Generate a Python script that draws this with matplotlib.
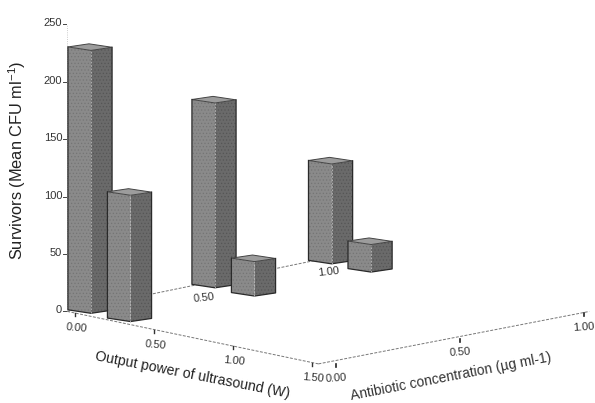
import matplotlib
matplotlib.use("Agg")
import matplotlib.pyplot as plt
from matplotlib.patches import Polygon

plt.rcParams['font.family'] = ['Liberation Sans', 'DejaVu Sans']
plt.rcParams['hatch.linewidth'] = 0.5
plt.rcParams['mathtext.default'] = 'regular'

# data
bar_power = [0.0, 0.25, 0.0, 0.25, 0.0, 0.25]
bar_conc = [0.0, 0.0, 0.5, 0.5, 0.97, 0.97]
survivors = [229, 110, 161, 30, 87, 24]
z_ticks = [0, 50, 100, 150, 200, 250]
power_ticks = [0.0, 0.5, 1.0, 1.5]
conc_ticks = [0.0, 0.5, 1.0]

# oblique projection (pixels per data unit)
ORIGIN = (90.0, 310.0)
P_VEC = (158.0, 33.0)
C_VEC = (248.0, -51.0)
Z_SCALE = 1.148
HALF_P, HALF_C = 0.073, 0.0425
AX_P, AX_C = -0.05, -0.06
FLAT = 0.72  # footprint of a bar looks flatter than the floor axes


def proj(p, c, z=0.0):
    return (ORIGIN[0] + p * P_VEC[0] + c * C_VEC[0],
            ORIGIN[1] + p * P_VEC[1] + c * C_VEC[1] - z * Z_SCALE)


def corner(p, c, sp, sc, z=0.0):
    x, y = proj(p, c, z)
    dp, dc = sp * HALF_P, sc * HALF_C
    return (x + dp * P_VEC[0] + dc * C_VEC[0],
            y + FLAT * (dp * P_VEC[1] + dc * C_VEC[1]))


fig = plt.figure(figsize=(5.95, 4.03), dpi=100)
ax = fig.add_axes([0, 0, 1, 1])
ax.set_xlim(0, 595)
ax.set_ylim(403, 0)
ax.axis('off')


def line(a, b, **kw):
    ax.plot([a[0], b[0]], [a[1], b[1]], **kw)


axis_style = dict(color='#777777', lw=0.7, ls=(0, (3, 1.5)), zorder=1)
TXT = '#333333'
TICK_FS = 8.0
# axes
line(proj(AX_P, AX_C), proj(AX_P, AX_C, 250), color='#bbbbbb', lw=0.6, ls=':', zorder=1)
line(proj(AX_P, AX_C), proj(1.54, AX_C), **axis_style)
line(proj(1.54, AX_C), proj(1.59, 1.0), **axis_style)
line(proj(AX_P, AX_C), proj(AX_P, 1.0), **axis_style)

# z ticks
for z in z_ticks:
    x, y = proj(AX_P, AX_C, z)
    line((x - 4, y), (x - 1, y), color='#444444', lw=0.7)
    ax.text(x - 5, y - 1, str(z), ha='right', va='center', fontsize=TICK_FS, color=TXT)

# power ticks
for p in power_ticks:
    x, y = proj(p, AX_C)
    line((x, y), (x, y + 3), color='#333333', lw=1.0)
    ax.text(x + 1, y + 15, f'{p:.2f}', ha='center', va='center', fontsize=TICK_FS,
            color=TXT, rotation=-5)

# concentration ticks along the bottom edge
for c in conc_ticks:
    x, y = proj(1.59, c + AX_C + 0.03)
    line((x + 2, y), (x + 2, y + 3), color='#222222', lw=1.2)
    ax.text(x + 2, y + 14, f'{c:.2f}', ha='center', va='center', fontsize=TICK_FS,
            color=TXT, rotation=4)

# concentration labels at the rear axis
for c in conc_ticks[1:]:
    x, y = proj(AX_P, c + AX_C + 0.06)
    ax.text(x - 2, y + 15, f'{c:.2f}', ha='center', va='center', fontsize=TICK_FS,
            color=TXT, rotation=6)

# bars, back to front
order = sorted(range(len(survivors)), key=lambda i: (-bar_conc[i], bar_power[i]))
for n, i in enumerate(order):
    p, c, v = bar_power[i], bar_conc[i], survivors[i]
    left = corner(p, c, -1, -1)
    front = corner(p, c, 1, -1)
    right = corner(p, c, 1, 1)
    left_t = corner(p, c, -1, -1, v)
    front_t = corner(p, c, 1, -1, v)
    right_t = corner(p, c, 1, 1, v)
    back_t = corner(p, c, -1, 1, v)
    z0 = 5 + n * 3
    ax.add_patch(Polygon([left, front, front_t, left_t],
                         fc='#8a8a8a', ec='#757575', hatch='.....', lw=0, zorder=z0))
    ax.add_patch(Polygon([front, right, right_t, front_t],
                         fc='#6a6a6a', ec='#565656', hatch='.....', lw=0, zorder=z0))
    ax.add_patch(Polygon([left_t, front_t, right_t, back_t],
                         fc='#9c9c9c', ec='#444444', lw=0.7, zorder=z0 + 1))
    outline = [left_t, left, front, right, right_t]
    ax.plot([q[0] for q in outline], [q[1] for q in outline], color='#2a2a2a', lw=0.9,
            zorder=z0 + 1)
    line(front, front_t, color='#bbbbbb', lw=0.6, ls=(0, (2, 2)), zorder=z0 + 1)

# axis titles
ax.text(17, 160, 'Survivors (Mean CFU ml$^{-1}$)', rotation=90, ha='center', va='center',
        fontsize=11.8, color='#222222')
ax.text(192, 375, 'Output power of ultrasound (W)', rotation=-11, ha='center', va='center',
        fontsize=10.2, color='#222222', rotation_mode='anchor')
ax.text(451, 377, 'Antibiotic concentration (µg ml-1)', rotation=11, ha='center', va='center',
        fontsize=10.0, color=TXT, rotation_mode='anchor')

fig.savefig('out.png', dpi=100)
